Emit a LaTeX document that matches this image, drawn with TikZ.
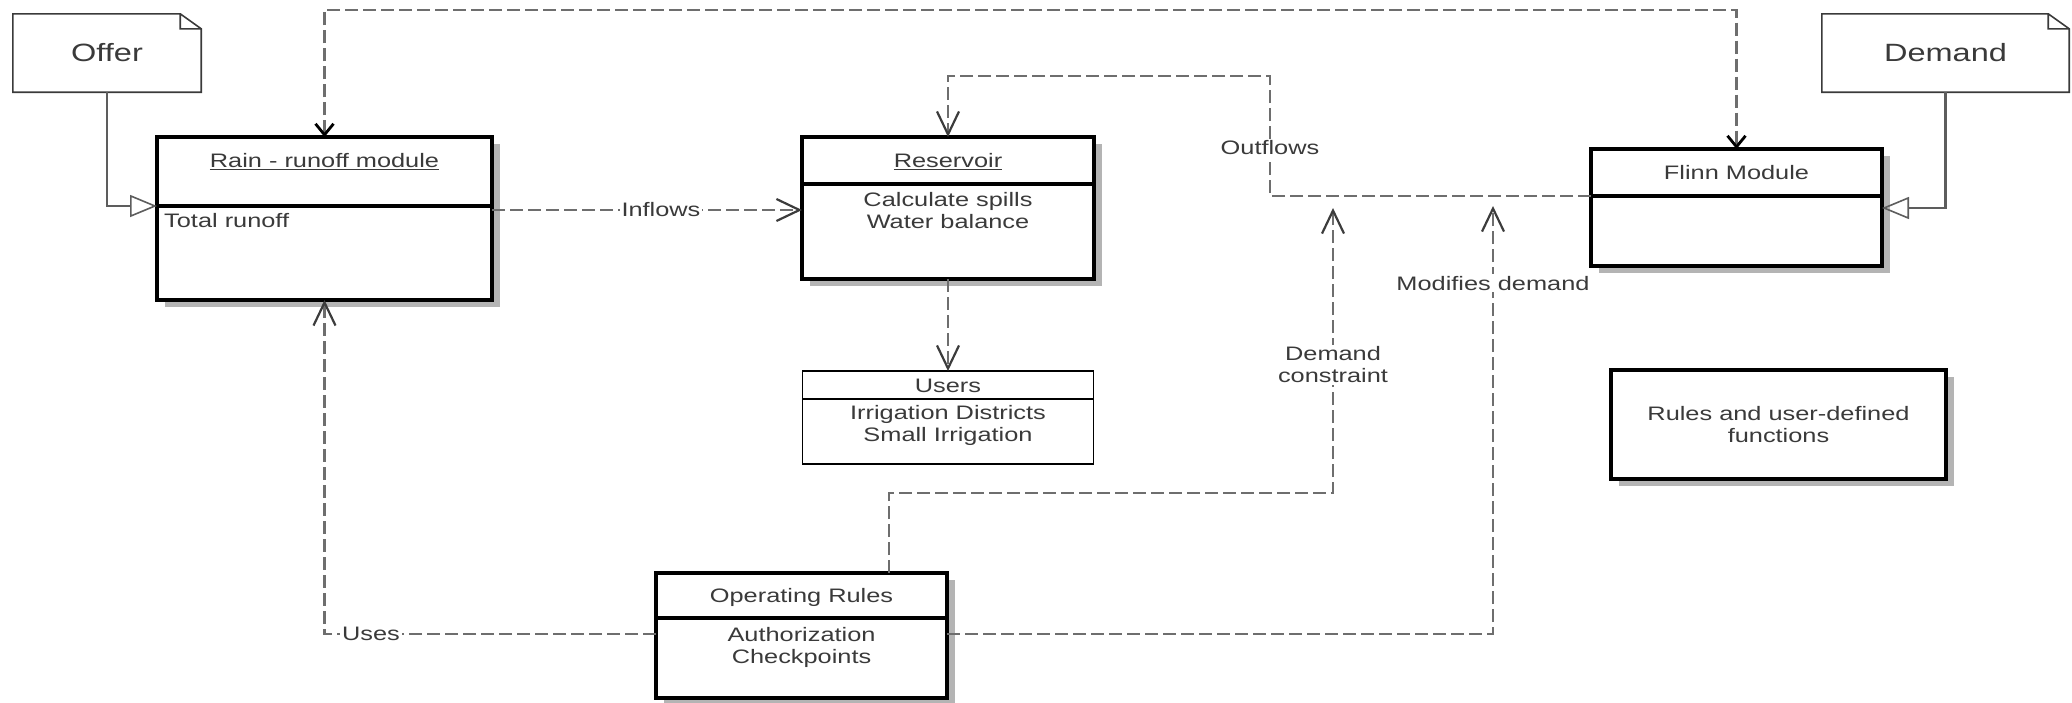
\documentclass[tikz,border=0pt]{standalone}
\usepackage{fontspec}
\setmainfont{Liberation Sans}[FakeStretch=1.3]
\usetikzlibrary{positioning}
\usetikzlibrary{arrows.meta}
\usetikzlibrary{shadows}
\definecolor{txtgray}{HTML}{3A3A3A}
\definecolor{linegray}{HTML}{6E6E6E}
\definecolor{tipgray}{HTML}{3C3C3C}
\definecolor{shadegray}{HTML}{B4B4B4}
\tikzset{boxbase/.style={rectangle, draw, line width=3.3pt, fill=white, outer sep=0pt, inner sep=0pt,
   text=txtgray, font=\fontsize{19.5}{22}\selectfont, align=center,
   drop shadow={shadow xshift=8pt, shadow yshift=-7pt, fill=shadegray, opacity=1}}}
\tikzset{classtop/.style={boxbase, text height=14pt, text depth=0pt}}
\tikzset{thinclass/.style={rectangle, draw, line width=1.6pt, fill=white, outer sep=0pt, inner sep=0pt,
   text=txtgray, font=\fontsize{19.5}{22}\selectfont, text height=14pt, text depth=0pt}}
\tikzset{bodytext/.style={anchor=north, inner sep=0pt, align=center, text=txtgray,
   font=\fontsize{19.5}{22}\selectfont}}
\tikzset{note/.style={rectangle, inner sep=0pt, text=txtgray, font=\fontsize{25}{30}\selectfont}}
\tikzset{lbl/.style={fill=white, inner sep=2pt, text=txtgray, align=center,
   font=\fontsize{19.5}{22}\selectfont}}
\tikzset{dep/.style={linegray, line width=2.5pt, dash pattern=on 13pt off 5pt,
   -{Straight Barb[length=23pt, width=22pt, line width=2.2pt, color=tipgray]}}}
\tikzset{link/.style={linegray, line width=2.5pt, dash pattern=on 13pt off 5pt,
   {Straight Barb[length=11pt, width=18pt, line width=2.8pt, color=black]}-{Straight Barb[length=11pt, width=18pt, line width=2.8pt, color=black]}}}
\tikzset{gen/.style={draw=linegray!85!black, line width=2.2pt,
   -{Triangle[open, length=27pt, width=22pt, line width=1.6pt]}}}

\begin{document}
\begin{tikzpicture}[x=1pt, y=-1pt]

    \useasboundingbox (0,0) rectangle (2072,702);

    % notes
    \node[note, minimum width=188pt, minimum height=78pt] (offer) at (107,53) {Offer};
    \node[note, minimum width=247pt, minimum height=78pt] (demand) at (1945.5,53) {Demand};
    \foreach \n in {offer,demand}
      \draw[line width=1.6pt, draw=txtgray] (\n.south west) -- (\n.north west) -- ([xshift=-21pt]\n.north east)
        -- ([yshift=-15pt]\n.north east) -- (\n.south east) -- cycle
        ([xshift=-21pt]\n.north east) |- ([yshift=-15pt]\n.north east);

    % classes
    \node[classtop, minimum width=335pt, minimum height=69pt, text depth=22pt] (raintop) at (324.5,171.5) {\underline{Rain - runoff module}};
    \node[classtop, minimum width=335pt, minimum height=94pt, below=0pt of raintop,
      label={[bodytext, anchor=north west, xshift=7pt, yshift=-7pt]north west:Total runoff}] (rainbody) {};

    \node[classtop, minimum width=292pt, minimum height=47pt] (restop) at (948,160.5) {\underline{Reservoir}};
    \node[classtop, minimum width=292pt, minimum height=95pt, below=0pt of restop,
      label={[bodytext, yshift=-8pt]north:Calculate spills\\Water balance}] (resbody) {};

    \node[thinclass, minimum width=291pt, minimum height=28pt] (userstop) at (948,385) {Users};
    \node[thinclass, minimum width=291pt, minimum height=65pt, below=0pt of userstop,
      label={[bodytext, yshift=-6pt]north:Irrigation Districts\\Small Irrigation}] (usersbody) {};

    \node[classtop, minimum width=291pt, minimum height=47pt] (flinntop) at (1736.5,172.5) {Flinn Module};
    \node[classtop, minimum width=291pt, minimum height=70pt, below=0pt of flinntop] (flinnbody) {};

    \node[classtop, minimum width=291pt, minimum height=45pt] (opertop) at (801.5,595.5) {Operating Rules};
    \node[classtop, minimum width=291pt, minimum height=80pt, below=0pt of opertop,
      label={[bodytext, yshift=-9pt]north:Authorization\\Checkpoints}] (operbody) {};

    \node[boxbase, minimum width=335pt, minimum height=109pt] (rules) at (1778.5,424.5) {Rules and user-defined\\functions};

    % connectors
    \draw[gen] (offer.south) |- (raintop.south west);
    \draw[gen] (demand.south) |- ([yshift=-12pt]flinntop.south east);

    \coordinate (topline) at (0,10);
    \draw[link] (raintop.north) -- (raintop.north |- topline) -| (flinntop.north);

    \coordinate (infl) at ([yshift=-4pt]raintop.south east);
    \draw[dep] (infl) -- (infl -| resbody.west) node[lbl, pos=0.545] {Inflows};

    \draw[dep] (resbody.south) -- (userstop.north);

    \coordinate (outfl) at (1270,76);
    \draw[dep] (flinntop.south west) -| (outfl) node[lbl, pos=0.7] {Outflows} -| (restop.north);

    \coordinate (dctip) at (1333,208);
    \draw[dep] ([xshift=87.5pt]opertop.north) |- (dctip |- 0,493) -- (dctip) node[lbl, pos=0.45] {Demand\\constraint};

    \coordinate (mdtip) at (1493,206);
    \draw[dep] ([yshift=-16pt]opertop.south east) -| (mdtip) node[lbl, pos=0.91] {Modifies demand};

    \draw[dep] ([yshift=-16pt]opertop.south west) -| (rainbody.south) node[lbl, pos=0.43] {Uses};

\end{tikzpicture}
\end{document}
